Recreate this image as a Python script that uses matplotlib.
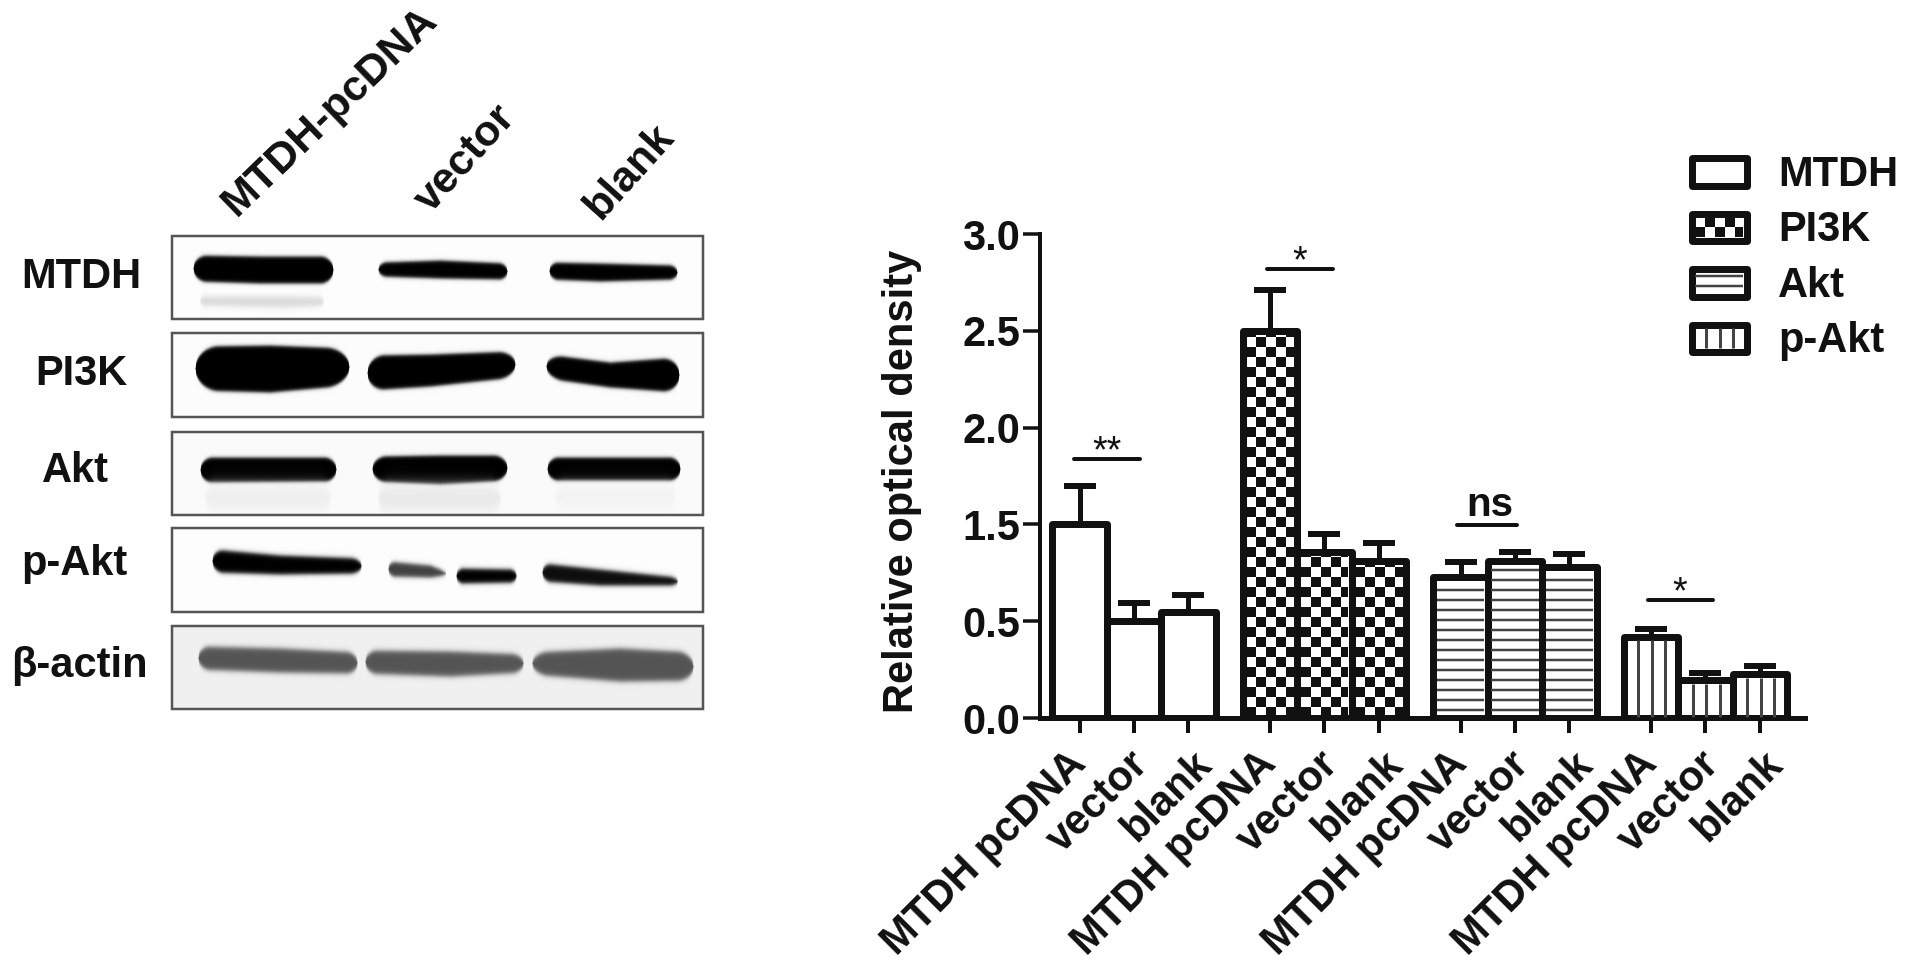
import numpy as np
import matplotlib
matplotlib.use("Agg")
import matplotlib.pyplot as plt
from matplotlib.patches import Rectangle
from matplotlib.transforms import ScaledTranslation

plt.rcParams['font.family'] = ['Liberation Sans', 'DejaVu Sans']

INK = '#111111'
PX = 0.72  # points per pixel at dpi 100

# bar chart data, values as printed on the (broken) y axis
groups = ['MTDH', 'PI3K', 'Akt', 'p-Akt']
conditions = ['MTDH pcDNA', 'vector', 'blank']
means_mtdh = [1.50, 0.50, 0.60]
means_pi3k = [2.50, 1.22, 1.12]
means_akt = [0.96, 1.12, 1.06]
means_pakt = [0.42, 0.195, 0.225]
tops_mtdh = [1.70, 0.69, 0.77]
tops_pi3k = [2.71, 1.40, 1.31]
tops_akt = [1.11, 1.21, 1.19]
tops_pakt = [0.46, 0.23, 0.27]
y_tick_labels = [0.0, 0.5, 1.5, 2.0, 2.5, 3.0]

# significance bars: first bar, last bar, height, text
sig_x0 = [-0.10, 3.44, 6.94, 10.45]
sig_x1 = [1.11, 4.66, 8.04, 11.64]
sig_y = [1.84, 2.82, 1.49, 0.72]
sig_text = ['**', '*', 'ns', '*']
sig_text_x = [0.51, 4.05, 7.53, 11.02]

# blot panels
blot_names = ['MTDH', 'PI3K', 'Akt', 'p-Akt', 'β-actin']
blot_name_x = [81, 81, 75, 74, 79]
blot_name_base = [288, 385, 482, 575, 677]
panel_tops = [236, 333, 432, 528, 626]
panel_bottoms = [319, 417, 515, 612, 709]
panel_bg = [0.99, 0.985, 0.98, 0.99, 0.94]

# band outlines: panel, x, upper edge, lower edge, grey level, softness
bands = [
    (0, [193, 260, 333], [255, 256, 256], [281, 283, 283], 0.0, 2.0),
    (0, [200, 285, 323], [296, 296, 297], [305, 307, 305], 0.85, 3.5),
    (0, [378, 440, 507], [262, 260, 263], [276, 278, 279], 0.0, 2.0),
    (0, [549, 600, 677], [262, 263, 265], [279, 281, 279], 0.0, 2.0),
    (1, [195, 270, 349], [346, 345, 348], [390, 392, 385], 0.0, 2.0),
    (1, [367, 430, 515], [355, 354, 351], [390, 386, 377], 0.0, 2.0),
    (1, [546, 610, 679], [354, 362, 357], [378, 387, 392], 0.0, 2.0),
    (2, [200, 336], [457, 457], [482, 481], 0.0, 2.0),
    (2, [372, 440, 507], [456, 455, 455], [481, 484, 480], 0.0, 2.0),
    (2, [547, 680], [457, 457], [480, 480], 0.0, 2.0),
    (2, [205, 330], [486, 486], [508, 508], 0.93, 8.0),
    (2, [378, 500], [486, 486], [510, 510], 0.91, 8.0),
    (2, [555, 675], [486, 486], [508, 508], 0.95, 8.0),
    (3, [212, 280, 361], [549, 555, 558], [572, 574, 573], 0.0, 2.5),
    (3, [388, 430, 445], [561, 565, 571], [576, 577, 575], 0.25, 2.5),
    (3, [456, 516], [568, 569], [583, 582], 0.0, 2.5),
    (3, [542, 600, 677], [563, 569, 577], [581, 585, 585], 0.05, 2.5),
    (4, [198, 280, 357], [646, 648, 652], [669, 672, 673], 0.33, 3.0),
    (4, [365, 450, 523], [650, 651, 654], [673, 676, 672], 0.33, 3.0),
    (4, [532, 620, 693], [652, 648, 652], [674, 681, 680], 0.33, 3.0),
]

# lane labels: text, baseline start x, y, rotation
lane_names = ['MTDH-pcDNA', 'vector', 'blank']
lane_x = [236, 431, 600]
lane_y = [218, 214, 221]
lane_rot = [44, 48, 48]

# legend boxes
legend_tops = [158, 214, 269, 325]
legend_bottoms = [186, 241, 297, 352]
legend_text_base = [186, 241, 297, 352]

# sideways shift of the x tick labels, pixels
label_shift = [-14, -6, 3]


def fill_pattern(ov, x0, x1, y0, y1, kind):
    """pattern inside a box given in figure pixels"""
    if kind == 'checker':
        cell = 10.0
        rows = int((y1 - y0) / cell) + 1
        cols = int((x1 - x0) / cell) + 1
        for r in range(rows):
            for c in range(cols):
                if (r + c) % 2:
                    continue
                left = x0 + c * cell
                bottom = y1 - r * cell
                right = min(left + cell, x1)
                top = max(bottom - cell, y0)
                if right > left and bottom > top:
                    ov.add_patch(Rectangle((left, top), right - left, bottom - top,
                                           fc=INK, ec='none', zorder=3))
    elif kind == 'hlines':
        ys = np.arange(y1 - 7, y0, -10.0)
        ov.hlines(ys, x0, x1, color='#444444', lw=2.5 * PX, zorder=3)
    elif kind == 'vlines':
        xs = np.arange(x0 + 11, x1 - 2, 13.5)
        ov.vlines(xs, y0, y1, color='#444444', lw=3 * PX, zorder=3)


def draw_blot(ov, panel):
    x0, x1 = 172, 703
    y0, y1 = panel_tops[panel], panel_bottoms[panel]
    xs, ys = np.meshgrid(np.arange(x0, x1), np.arange(y0, y1))
    img = np.full(xs.shape, panel_bg[panel], dtype=float)
    for pn, bx, bt, bb, level, soft in bands:
        if pn != panel:
            continue
        top = np.interp(xs, bx, bt)
        bot = np.interp(xs, bx, bb)
        mid = (top + bot) / 2
        half = (bot - top) / 2
        r = half.max()
        edge = np.clip(np.minimum(xs - bx[0], bx[-1] - xs) / r, 0, 1)
        half = half * np.sqrt(1 - (1 - edge) ** 2)
        a = 0.5 * (1 + np.tanh((half - np.abs(ys - mid)) / soft))
        a[(xs < bx[0]) | (xs > bx[-1])] = 0
        img = img * (1 - a) + level * a
    ov.imshow(img, cmap='gray', vmin=0, vmax=1, extent=(x0, x1, y1, y0),
              aspect='auto', interpolation='bilinear', zorder=1)
    ov.add_patch(Rectangle((x0, y0), x1 - x0, y1 - y0, fc='none', ec='#555555',
                           lw=2.5 * PX, zorder=2))


fig = plt.figure(figsize=(19.13, 9.63), dpi=100)
W, H = 1913.0, 963.0

# axis is evenly spaced but the tick labels skip 1.0
tick_pos = np.arange(len(y_tick_labels)) * 0.5


def to_axis(values):
    return np.interp(values, y_tick_labels, tick_pos)


ax = fig.add_axes([1040 / W, 1 - 718 / H, (1805 - 1040) / W, (718 - 234) / H])
ax.set_xlim(-0.728, 13.33)
ax.set_ylim(0, 2.5)
ax.patch.set_visible(False)

ov = fig.add_axes([0, 0, 1, 1], zorder=5)
ov.set_xlim(0, W)
ov.set_ylim(H, 0)
ov.axis('off')

x_pos = [0, 1, 2, 3.5, 4.5, 5.5, 7, 8, 9, 10.5, 11.5, 12.5]
means = means_mtdh + means_pi3k + means_akt + means_pakt
tops = tops_mtdh + tops_pi3k + tops_akt + tops_pakt
kinds = [None] * 3 + ['checker'] * 3 + ['hlines'] * 3 + ['vlines'] * 3

heights = to_axis(means)
err_tops = to_axis(tops)
ax.errorbar(x_pos, heights, yerr=[np.zeros(12), err_tops - heights], fmt='none',
            ecolor=INK, elinewidth=5 * PX, capsize=16 * PX, capthick=6 * PX, zorder=1)
rects = ax.bar(x_pos, heights, width=1.0, fc='white', ec=INK, lw=7 * PX, zorder=2,
               joinstyle='round')

for rect, kind in zip(rects, kinds):
    bb = rect.get_window_extent()
    fill_pattern(ov, bb.x0 + 3.5, bb.x1 - 3.5, H - bb.y1 + 3.5, H - bb.y0 - 1, kind)

for s in ['top', 'right']:
    ax.spines[s].set_visible(False)
ax.spines['left'].set_linewidth(4 * PX)
ax.spines['bottom'].set_linewidth(5 * PX)
ax.spines['left'].set_color(INK)
ax.spines['bottom'].set_color(INK)
ax.spines['left'].set_zorder(6)
ax.spines['bottom'].set_zorder(6)

ax.set_yticks(tick_pos)
ax.set_yticklabels(['%.1f' % v for v in y_tick_labels], fontsize=30, fontweight='bold', color=INK)
ax.tick_params(axis='y', length=17 * PX, width=3.5 * PX, color=INK, pad=2)
ax.set_xticks(x_pos)
ax.set_xticklabels(conditions * 4, fontsize=30, fontweight='bold', color=INK,
                   rotation=45, ha='right', rotation_mode='anchor')
ax.tick_params(axis='x', length=15 * PX, width=4 * PX, color=INK, pad=8)
for i, label in enumerate(ax.get_xticklabels()):
    dx = label_shift[i % 3] * PX / 72
    label.set_transform(label.get_transform() + ScaledTranslation(dx, 0, fig.dpi_scale_trans))
ax.set_ylabel('Relative optical density', fontsize=30, fontweight='bold', color=INK, labelpad=29)
ax.yaxis.label.set_y(0.488)

for x0, x1, y, txt, tx in zip(sig_x0, sig_x1, sig_y, sig_text, sig_text_x):
    ypos = to_axis(y)
    ax.plot([x0, x1], [ypos, ypos], color=INK, lw=4 * PX, solid_capstyle='round', zorder=3)
    if txt == 'ns':
        ax.text(tx, ypos + 0.05, txt, ha='center', va='baseline', fontsize=29,
                fontweight='bold', color=INK)
    else:
        ax.text(tx, ypos - 0.02, txt, ha='center', va='baseline', fontsize=27, color=INK)

# western blot on the left
for i in range(len(blot_names)):
    draw_blot(ov, i)
    ov.text(blot_name_x[i], blot_name_base[i], blot_names[i], ha='center', va='baseline',
            fontsize=30, fontweight='bold', color=INK)
for name, lx, ly, rot in zip(lane_names, lane_x, lane_y, lane_rot):
    ov.text(lx, ly, name, ha='left', va='baseline', rotation=rot, rotation_mode='anchor',
            fontsize=31, color=INK, fontweight='bold')

# legend
legend_kinds = [None, 'checker', 'hlines', 'vlines']
for i, name in enumerate(groups):
    ov.add_patch(Rectangle((1691.5, legend_tops[i]), 55, legend_bottoms[i] - legend_tops[i],
                           fc='white', ec=INK, lw=7 * PX, joinstyle='round', zorder=2))
    fill_pattern(ov, 1695, 1743, legend_tops[i] + 3.5, legend_bottoms[i] - 3.5, legend_kinds[i])
    ov.text(1778, legend_text_base[i], name, ha='left', va='baseline', fontsize=30,
            fontweight='bold', color=INK)

ov.set_xlim(0, W)
ov.set_ylim(H, 0)

fig.savefig('out.png', dpi=100)
